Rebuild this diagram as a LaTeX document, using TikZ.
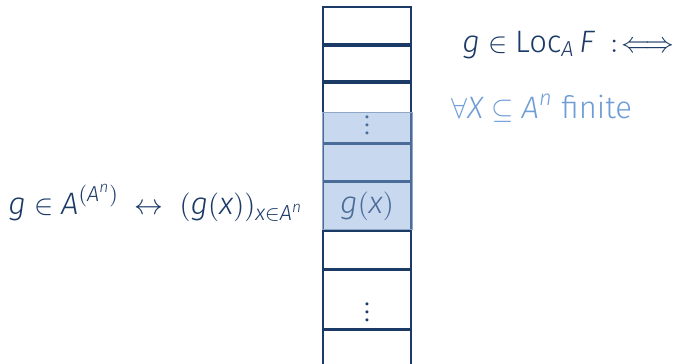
\documentclass[tikz,border=0pt]{standalone}
\usepackage{amsmath,amssymb}
\usepackage{fontspec}
\setmainfont{Fira Sans Light}
\usepackage{xcolor}

\definecolor{navy}{HTML}{1B3A66}
\definecolor{lightblue}{HTML}{6E9DD6}
\definecolor{hlfill}{HTML}{85A9D9}
\definecolor{hlline}{HTML}{8FA6C4}

\newcommand{\vi}[1]{\textit{#1}}

\begin{document}
\begin{tikzpicture}[
    x=0.5pt,
    y=-0.5pt,
    font=\fontsize{15.5}{18}\selectfont,
    cell/.style={
        rectangle,
        draw=navy,
        line width=0.9pt,
        minimum width=44pt,
        inner sep=0pt,
        anchor=north
    },
    highlight/.style={
        draw=hlline,
        line width=0.5pt,
        fill=hlfill,
        fill opacity=0.45
    }
]
    \useasboundingbox (0,0) rectangle (675,364);

    % Memory column
    \node [cell, minimum height=18.5pt] (c1) at (367,6) {};
    \node [cell, minimum height=17.5pt] (c2) at (367,45) {};
    \node [cell, minimum height=30pt] (c3) at (367,82) {};
    \node [cell, minimum height=18.5pt] (c4) at (367,143) {};
    \node [cell, minimum height=24pt] (c5) at (367,181) {};
    \node [cell, minimum height=19pt] (c6) at (367,230) {};
    \node [cell, minimum height=29.5pt] (c7) at (367,269) {};
    \node [cell, minimum height=22.5pt] (c8) at (367,329) {};

    % Cell contents
    \node [text=navy, inner sep=0pt] (dots1) at (367,119) {$\vdots$};
    \node [text=navy, inner sep=0pt] (dots2) at (367,306) {$\vdots$};
    \node [text=navy] (gx) at (c5.center) {$\vi{g}(\vi{x})$};

    % Highlighted finite part
    \path [highlight] (322,112) rectangle (412,229);

    % Labels
    \node [text=navy, anchor=base west, inner sep=0pt] (repr) at (8,214)
        {$\vi{g} \in \vi{A}^{(\vi{A}^{\vi{n}})} \;\leftrightarrow\; (\vi{g}(\vi{x}))_{\vi{x} \in \vi{A}^{\vi{n}}}$};
    \node [text=navy, anchor=base west, inner sep=0pt] (defn) at (462,52)
        {$\vi{g} \in \text{Loc}_{\vi{A}}\,\vi{F}\;\; {:}\!\Longleftrightarrow$};
    \node [text=lightblue, anchor=base west, inner sep=0pt] (cond) at (451,118)
        {$\forall \vi{X} \subseteq \vi{A}^{\vi{n}}$ finite};
\end{tikzpicture}
\end{document}
